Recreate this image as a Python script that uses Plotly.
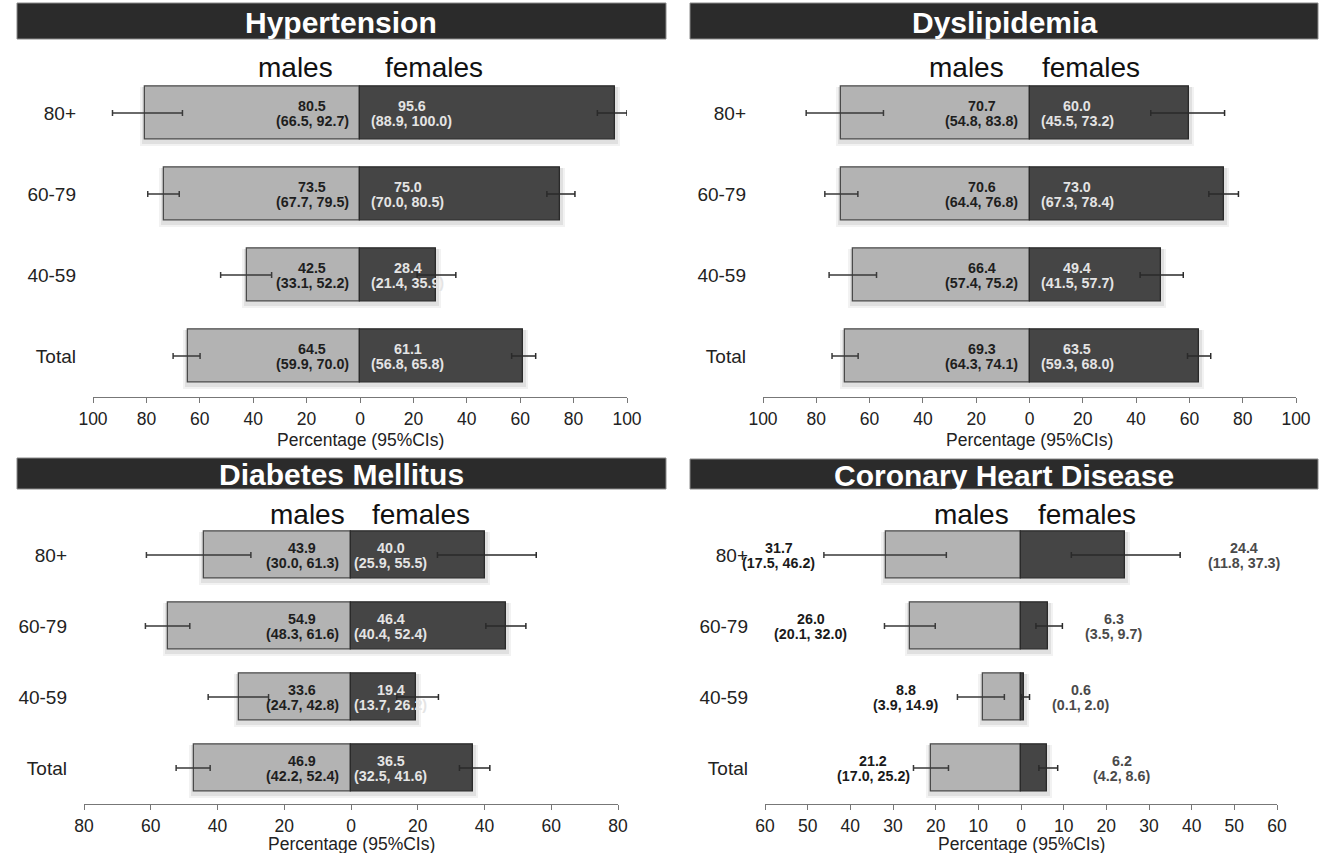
import plotly.graph_objects as go

# ---------------- data ----------------
age_groups = ["80+", "60-79", "40-59", "Total"]

hyp_m = [80.5, 73.5, 42.5, 64.5]
hyp_m_lo = [66.5, 67.7, 33.1, 59.9]
hyp_m_hi = [92.7, 79.5, 52.2, 70.0]
hyp_f = [95.6, 75.0, 28.4, 61.1]
hyp_f_lo = [88.9, 70.0, 21.4, 56.8]
hyp_f_hi = [100.0, 80.5, 35.9, 65.8]

dys_m = [70.7, 70.6, 66.4, 69.3]
dys_m_lo = [54.8, 64.4, 57.4, 64.3]
dys_m_hi = [83.8, 76.8, 75.2, 74.1]
dys_f = [60.0, 73.0, 49.4, 63.5]
dys_f_lo = [45.5, 67.3, 41.5, 59.3]
dys_f_hi = [73.2, 78.4, 57.7, 68.0]

dm_m = [43.9, 54.9, 33.6, 46.9]
dm_m_lo = [30.0, 48.3, 24.7, 42.2]
dm_m_hi = [61.3, 61.6, 42.8, 52.4]
dm_f = [40.0, 46.4, 19.4, 36.5]
dm_f_lo = [25.9, 40.4, 13.7, 32.5]
dm_f_hi = [55.5, 52.4, 26.2, 41.6]

chd_m = [31.7, 26.0, 8.8, 21.2]
chd_m_lo = [17.5, 20.1, 3.9, 17.0]
chd_m_hi = [46.2, 32.0, 14.9, 25.2]
chd_f = [24.4, 6.3, 0.6, 6.2]
chd_f_lo = [11.8, 3.5, 0.1, 4.2]
chd_f_hi = [37.3, 9.7, 2.0, 8.6]

ticks_100 = [-100, -80, -60, -40, -20, 0, 20, 40, 60, 80, 100]
ticks_80 = [-80, -60, -40, -20, 0, 20, 40, 60, 80]
ticks_60 = [-60, -50, -40, -30, -20, -10, 0, 10, 20, 30, 40, 50, 60]

titles = ["Hypertension", "Dyslipidemia", "Diabetes Mellitus", "Coronary Heart Disease"]
sex_labels = ["males", "females"]
axis_title = "Percentage (95%CIs)"

# ---------------- layout / style ----------------
W, H = 1326, 853
FONT = "Liberation Sans, Arial, sans-serif"
MALE_FILL, FEMALE_FILL = "#b3b3b3", "#454545"


def px(x):
    return x / W


def py(y):
    return 1 - y / H


panels = [
    dict(m=(hyp_m, hyp_m_lo, hyp_m_hi), f=(hyp_f, hyp_f_lo, hyp_f_hi), ticks=ticks_100,
         xpx=(93, 627), ypx=(72.5, 396.5), bar=(17, 666, 3, 39), lab_y=68,
         sex_shift=(-25, 23), inside=True, in_shift=(-11, 11), title=titles[0]),
    dict(m=(dys_m, dys_m_lo, dys_m_hi), f=(dys_f, dys_f_lo, dys_f_hi), ticks=ticks_100,
         xpx=(763, 1296), ypx=(72.5, 396.5), bar=(690, 1318, 3, 39), lab_y=68,
         sex_shift=(-24, 10), inside=True, in_shift=(-11, 11), title=titles[1]),
    dict(m=(dm_m, dm_m_lo, dm_m_hi), f=(dm_f, dm_f_lo, dm_f_hi), ticks=ticks_80,
         xpx=(84, 618), ypx=(519.5, 803.5), bar=(17, 666, 458, 489), lab_y=514,
         sex_shift=(-4, 19), inside=True, in_shift=(-12, 3), title=titles[2]),
    dict(m=(chd_m, chd_m_lo, chd_m_hi), f=(chd_f, chd_f_lo, chd_f_hi), ticks=ticks_60,
         xpx=(765, 1277), ypx=(519.5, 803.5), bar=(690, 1318, 459, 489), lab_y=514,
         sex_shift=(-10, 15), inside=False, title=titles[3],
         lab_m_x=[-56.8, -49.3, -27.0, -34.6], lab_f_x=[52.3, 21.7, 14.0, 23.6]),
]

CW = {"(": .333, ")": .333, ",": .278, ".": .278, " ": .278}


def text_w(s, size):
    return sum(CW.get(c, .556) for c in s) * size


fig = go.Figure()
shapes, annotations = [], []
BAR_W = 0.65
LAB_SIZE = 14.3

for i, p in enumerate(panels):
    k = "" if i == 0 else str(i + 1)
    xa, ya = "x" + k, "y" + k
    m, mlo, mhi = p["m"]
    f, flo, fhi = p["f"]
    rng = p["ticks"][-1]
    x0, x1 = p["xpx"]
    y0, y1 = p["ypx"]
    ppu = (x1 - x0) / (2 * rng)          # pixels per data unit (x)
    row_px = (y1 - y0) / 4.0             # pixels per category (y)

    # soft drop shadows behind the bars
    for pad_l, pad_r, drop, alpha in [(5, 5, 6, 0.05), (3, 3, 4, 0.07)]:
        wid = BAR_W + 2 * drop / row_px * 0.6
        fig.add_trace(go.Bar(
            y=age_groups, x=[mv + fv + (pad_l + pad_r) / ppu for mv, fv in zip(m, f)],
            base=[-mv - pad_l / ppu for mv in m], orientation="h",
            width=wid, offset=-wid / 2 - drop / row_px * 0.5,
            marker=dict(color=f"rgba(0,0,0,{alpha})", line=dict(width=0)),
            xaxis=xa, yaxis=ya, showlegend=False, hoverinfo="skip"))

    fig.add_trace(go.Bar(
        y=age_groups, x=[-v for v in m], orientation="h", width=BAR_W,
        marker=dict(color=MALE_FILL, line=dict(color="#4a4a4a", width=1.3)),
        error_x=dict(type="data", symmetric=False,
                     array=[v - lo for v, lo in zip(m, mlo)],
                     arrayminus=[hi - v for v, hi in zip(m, mhi)],
                     color="#3a3a3a", thickness=1.5, width=3),
        xaxis=xa, yaxis=ya, showlegend=False, name="males"))
    fig.add_trace(go.Bar(
        y=age_groups, x=f, orientation="h", width=BAR_W,
        marker=dict(color=FEMALE_FILL, line=dict(color="#2a2a2a", width=1.3)),
        error_x=dict(type="data", symmetric=False,
                     array=[hi - v for v, hi in zip(f, fhi)],
                     arrayminus=[v - lo for v, lo in zip(f, flo)],
                     color="#2a2a2a", thickness=1.5, width=3),
        xaxis=xa, yaxis=ya, showlegend=False, name="females"))

    fig.update_layout(**{
        ("xaxis" + k): dict(domain=[px(x0), px(x1)], anchor=ya, range=[-rng, rng],
                            tickvals=p["ticks"], ticktext=[str(abs(t)) for t in p["ticks"]],
                            showgrid=False, zeroline=False, showline=True, linecolor="#777",
                            linewidth=1, ticks="outside", ticklen=5, tickcolor="#777",
                            tickfont=dict(family=FONT, size=17.5, color="#222"),
                            ticklabelstandoff=1, fixedrange=True, automargin=False),
        ("yaxis" + k): dict(domain=[py(y1), py(y0)], anchor=xa, type="category",
                            categoryorder="array", categoryarray=age_groups[::-1],
                            range=[-0.5, 3.5], showgrid=False, zeroline=False, showline=False,
                            ticks="", tickfont=dict(family=FONT, size=19, color="#222"),
                            ticklabelstandoff=16, fixedrange=True, automargin=False),
    })

    # header bar + title
    bx0, bx1, by0, by1 = p["bar"]
    shapes.append(dict(type="rect", xref="paper", yref="paper", x0=px(bx0), x1=px(bx1),
                       y0=py(by1), y1=py(by0), fillcolor="#2b2b2b",
                       line=dict(color="#8a8a8a", width=1), layer="below"))
    annotations.append(dict(text=p["title"], xref="paper", yref="paper",
                            x=px((bx0 + bx1) / 2), y=py((by0 + by1) / 2 + 1),
                            xanchor="center", yanchor="middle", showarrow=False,
                            font=dict(family=FONT, size=30, color="white", weight="bold")))

    # males / females labels
    zero_px = (x0 + x1) / 2
    annotations.append(dict(text=sex_labels[0], xref="paper", yref="paper",
                            x=px(zero_px + p["sex_shift"][0]), y=py(p["lab_y"]),
                            xanchor="right", yanchor="middle", showarrow=False,
                            font=dict(family=FONT, size=28, color="#111")))
    annotations.append(dict(text=sex_labels[1], xref="paper", yref="paper",
                            x=px(zero_px + p["sex_shift"][1]), y=py(p["lab_y"]),
                            xanchor="left", yanchor="middle", showarrow=False,
                            font=dict(family=FONT, size=28, color="#111")))

    # axis title
    annotations.append(dict(text=axis_title, xref="paper", yref="paper",
                            x=px(zero_px), y=py(min(y1 + 44, 843.5)), xanchor="center",
                            yanchor="middle", showarrow=False,
                            font=dict(family=FONT, size=17.5, color="#222")))

    # value labels
    for j, g in enumerate(age_groups):
        mv_txt = f"{m[j]:.1f}"
        mci_txt = f"({mlo[j]:.1f}, {mhi[j]:.1f})"
        fv_txt = f"{f[j]:.1f}"
        fci_txt = f"({flo[j]:.1f}, {fhi[j]:.1f})"
        if p["inside"]:
            sm, sf = p["in_shift"]
            wm = text_w(mci_txt, LAB_SIZE)
            wf = text_w(fci_txt, LAB_SIZE)
            items = [
                (mv_txt, 0, sm - wm / 2, 7, "#1e1e1e"),
                (mci_txt, 0, sm - wm / 2, -8, "#1e1e1e"),
                (fv_txt, 0, sf + wf / 2, 7, "#e4e4e4"),
                (fci_txt, 0, sf + wf / 2, -8, "#e4e4e4"),
            ]
        else:
            xm, xf = p["lab_m_x"][j], p["lab_f_x"][j]
            items = [
                (mv_txt, xm, 0, 7, "#1a1a1a"),
                (mci_txt, xm, 0, -8, "#1a1a1a"),
                (fv_txt, xf, 0, 7, "#4a4a4a"),
                (fci_txt, xf, 0, -8, "#4a4a4a"),
            ]
        for txt, xv, xs, ys, col in items:
            annotations.append(dict(text=txt, xref=xa, yref=ya, x=xv, y=g, xshift=xs,
                                    yshift=ys, xanchor="center", yanchor="middle",
                                    showarrow=False,
                                    font=dict(family=FONT, size=LAB_SIZE, color=col,
                                              weight="bold")))

fig.update_layout(width=W, height=H, autosize=False, margin=dict(l=0, r=0, t=0, b=0, pad=0),
                  paper_bgcolor="white", plot_bgcolor="white", barmode="overlay",
                  bargap=0, shapes=shapes, annotations=annotations, showlegend=False)

fig.write_html("out.html", config={"displayModeBar": False, "responsive": False},
               post_script="document.body.style.margin='0';"
                           "document.body.style.overflow='hidden';")
